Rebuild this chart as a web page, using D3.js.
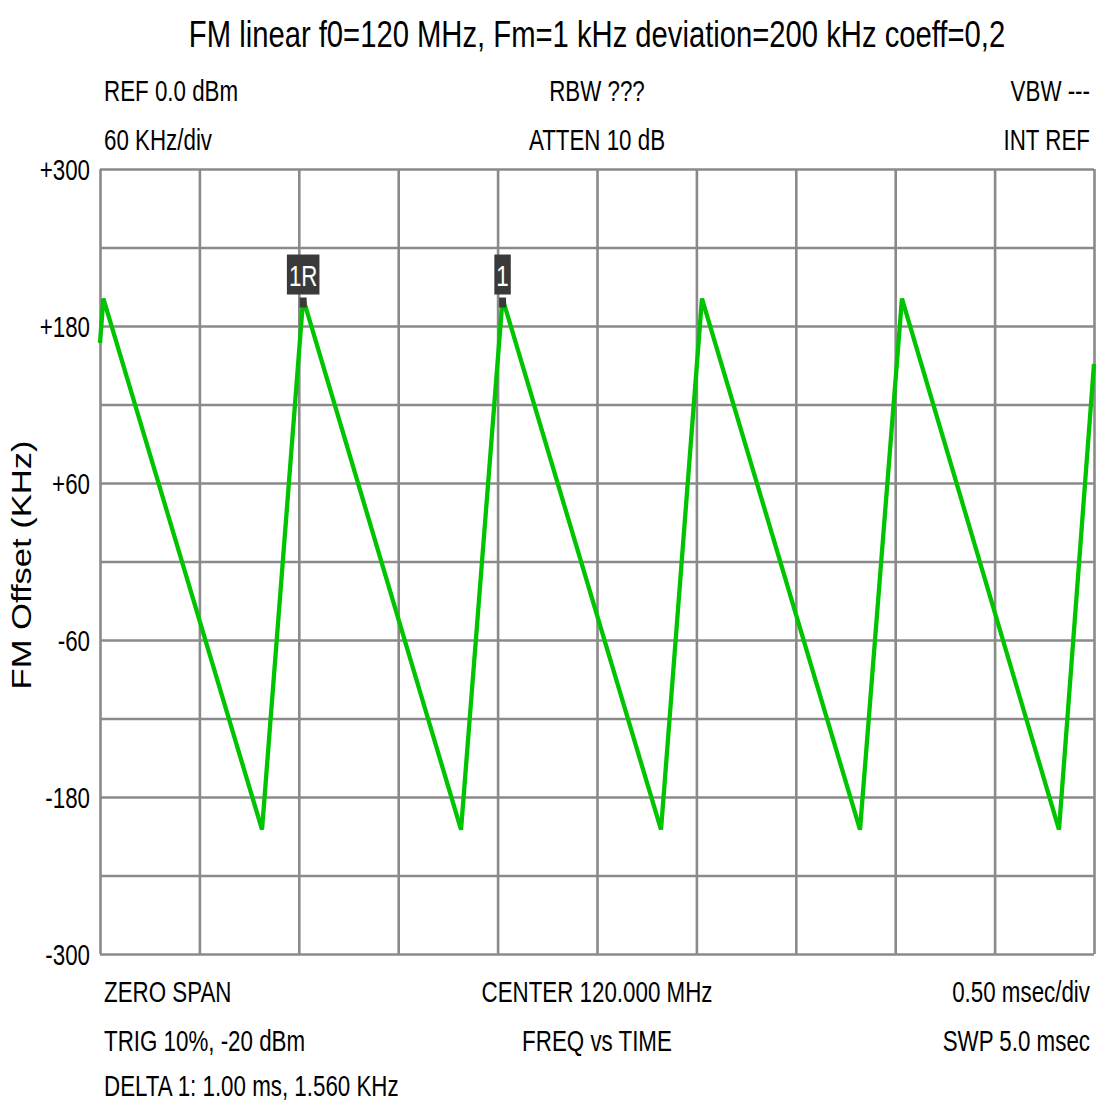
<!DOCTYPE html>
<html>
<head>
<meta charset="utf-8">
<script src="https://cdn.jsdelivr.net/npm/d3@7"></script>
<style>
  html, body { margin: 0; padding: 0; background: #fff; }
  svg { display: block; }
  text { font-family: "Liberation Sans", Arial, sans-serif; fill: #000; }
</style>
</head>
<body>
<svg id="chart" width="1096" height="1104"></svg>
<script>
// ---- data ----
const title = "FM linear f0=120 MHz, Fm=1 kHz deviation=200 kHz coeff=0,2";
const headerLeft = ["REF 0.0 dBm", "60 KHz/div"];
const headerCenter = ["RBW ???", "ATTEN 10 dB"];
const headerRight = ["VBW ---", "INT REF"];
const footerLeft = ["ZERO SPAN", "TRIG 10%, -20 dBm", "DELTA 1: 1.00 ms, 1.560 KHz"];
const footerCenter = ["CENTER 120.000 MHz", "FREQ vs TIME"];
const footerRight = ["0.50 msec/div", "SWP 5.0 msec"];
const yLabel = "FM Offset (KHz)";
const yTicks = [300, 180, 60, -60, -180, -300];
const yTickLabels = ["+300", "+180", "+60", "-60", "-180", "-300"];
const yGrid = [-300, -240, -180, -120, -60, 0, 60, 120, 180, 240, 300];
const xGrid = [0, 0.5, 1, 1.5, 2, 2.5, 3, 3.5, 4, 4.5, 5];
// trace vertices: time (ms) and FM offset (kHz)
const traceTimeMs = [0, 0.017, 0.815, 1.022, 1.816, 2.025, 2.822, 3.028, 3.823, 4.034, 4.824, 5.0];
const traceKHz    = [167, 201, -205, 201, -205, 201, -205, 201, -205, 201, -205, 151];
const markerNames = ["1R", "1"];
const markerTimeMs = [1.022, 2.025];
const markerKHz = [201, 201];

// ---- layout ----
const svg = d3.select("#chart");
const pLeft = 100, pRight = 1094, pTop = 169, pBottom = 954;
const SX = 0.745; // horizontal compression of the instrument font

const x = d3.scaleLinear().domain([0, 5]).range([pLeft, pRight]);
const y = d3.scaleLinear().domain([-300, 300]).range([pBottom, pTop]);

function label(px, py, str, anchor, size, sx, color) {
  return svg.append("text")
    .attr("transform", `translate(${px},${py}) scale(${sx},1)`)
    .attr("text-anchor", anchor)
    .attr("font-size", size)
    .style("fill", color || "#000")
    .text(str);
}

// title
label(597, 47, title, "middle", 37, 0.79);

// header / footer
const fs = 30;
const footerLeftY = [1002, 1051, 1096];
headerLeft.forEach((s, i) => label(104, 101 + i * 49, s, "start", fs, SX));
headerCenter.forEach((s, i) => label(597, 101 + i * 49, s, "middle", fs, SX));
headerRight.forEach((s, i) => label(1090, 101 + i * 49, s, "end", fs, SX));
footerLeft.forEach((s, i) => label(104, footerLeftY[i], s, "start", fs, SX));
footerCenter.forEach((s, i) => label(597, 1002 + i * 49, s, "middle", fs, SX));
footerRight.forEach((s, i) => label(1090, 1002 + i * 49, s, "end", fs, SX));

// grid
const gridColor = "#8a8a8a";
const gY = svg.append("g").attr("transform", `translate(${pLeft},0)`)
  .call(d3.axisLeft(y).tickValues(yGrid).tickSize(-(pRight - pLeft)).tickFormat(""));
const gX = svg.append("g").attr("transform", `translate(0,${pTop})`)
  .call(d3.axisTop(x).tickValues(xGrid).tickSize(-(pBottom - pTop)).tickFormat(""));
[gY, gX].forEach(g => {
  g.select(".domain").remove();
  g.selectAll(".tick line").attr("stroke", gridColor).attr("stroke-width", 2.6);
});

// y tick labels
const gL = svg.append("g").attr("transform", `translate(${pLeft},0)`)
  .call(d3.axisLeft(y).tickValues(yTicks).tickSize(0)
    .tickFormat(d => yTickLabels[yTicks.indexOf(d)]));
gL.select(".domain").remove();
gL.selectAll(".tick text")
  .attr("font-family", "Liberation Sans, Arial, sans-serif")
  .attr("font-size", fs)
  .attr("fill", "#000")
  .attr("transform", `scale(${SX},1)`)
  .attr("x", -10 / SX)
  .attr("dy", "0.36em");

// y axis label
svg.append("text")
  .attr("transform", "translate(31,565) rotate(-90) scale(1.28,1)")
  .attr("text-anchor", "middle")
  .attr("font-size", 27)
  .text(yLabel);

// trace
const pts = traceTimeMs.map((t, i) => [t, traceKHz[i]]);
svg.append("path")
  .datum(pts)
  .attr("fill", "none")
  .attr("stroke", "#00c400")
  .attr("stroke-width", 4.3)
  .attr("stroke-linejoin", "miter")
  .attr("stroke-miterlimit", 3)
  .attr("d", d3.line().x(d => x(d[0])).y(d => y(d[1])));

// markers
markerNames.forEach((name, i) => {
  const mx = x(markerTimeMs[i]), my = y(markerKHz[i]);
  const g = svg.append("g");
  const t = g.append("text")
    .attr("transform", `translate(${mx},${my - 13}) scale(${SX},1)`)
    .attr("text-anchor", "middle")
    .attr("font-size", fs)
    .style("fill", "#fff")
    .text(name);
  const w = t.node().getComputedTextLength() * SX;
  g.insert("rect", "text")
    .attr("x", mx - w / 2 - 2)
    .attr("y", my - 44)
    .attr("width", w + 4)
    .attr("height", 40)
    .attr("fill", "#3a3a3a");
  g.append("rect")
    .attr("x", mx - 3.5)
    .attr("y", my - 1)
    .attr("width", 7)
    .attr("height", 10)
    .attr("fill", "#3a3a3a");
});
</script>
</body>
</html>
